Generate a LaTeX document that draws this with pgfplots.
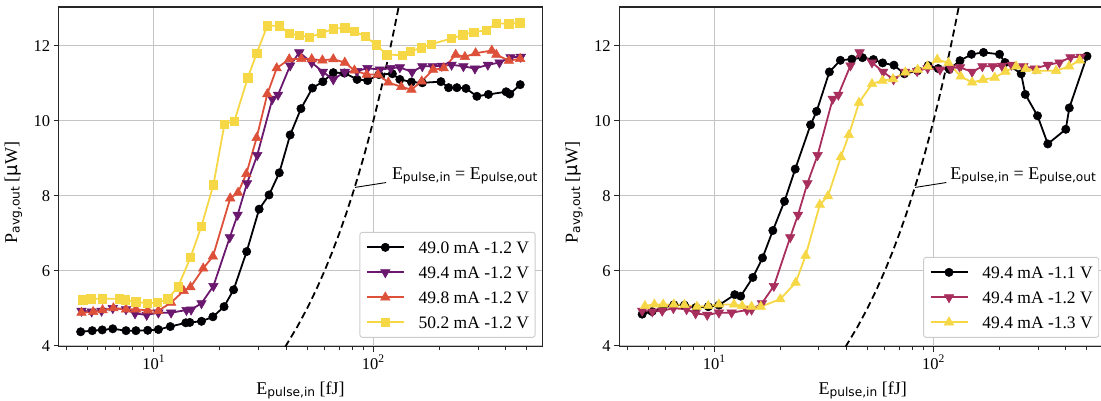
\documentclass[border=0pt]{standalone}
\usepackage{fontspec}
\setmainfont{Liberation Serif}
\newfontfamily\subf{DejaVu Sans}
\usepackage{pgfplots}
\pgfplotsset{compat=1.18}
\definecolor{c0}{HTML}{000004}
\definecolor{c1}{HTML}{6A176E}
\definecolor{c2}{HTML}{DD513A}
\definecolor{c3}{HTML}{F6D746}
\definecolor{c4}{HTML}{A82E5E}
\definecolor{gridc}{HTML}{C4C4C4}
\definecolor{legc}{HTML}{CCCCCC}
\newcommand{\sub}[1]{\raisebox{-2.5pt}{\fontsize{12.2}{12}\selectfont\subf #1}}

\pgfplotstableread{
x y
4.65 4.37
5.25 4.40
5.83 4.42
6.51 4.45
7.48 4.40
8.30 4.40
9.39 4.41
10.5 4.43
11.9 4.51
14.0 4.61
14.6 4.62
16.5 4.65
18.6 4.77
20.9 5.04
23.1 5.49
26.5 6.51
30.2 7.64
33.5 8.02
37.3 8.61
41.8 9.62
46.8 10.32
52.8 10.87
58.9 11.04
65.7 11.28
73.8 11.27
84.3 11.10
94.1 11.07
106 11.23
122 11.25
132 11.10
149 11.03
167 11.01
203 11.04
220 10.88
240 10.88
264 10.86
296 10.65
334 10.70
402 10.77
418 10.71
466 10.96
}\Lblack

\pgfplotstableread{
x y
4.69 4.93
5.22 4.91
5.79 4.93
6.51 5.00
7.48 4.97
8.22 4.86
9.29 4.82
10.5 4.88
12.0 4.88
14.1 4.95
14.8 4.96
16.5 5.13
18.7 5.59
22.2 6.89
24.1 7.49
26.6 8.33
29.6 9.08
34.7 10.58
36.8 10.69
41.8 11.47
46.0 11.82
52.4 11.55
58.9 11.30
65.7 11.10
74.1 11.30
84.2 11.32
94.0 11.40
107 11.36
120 11.40
132 11.42
150 11.30
167 11.45
186 11.45
205 11.46
227 11.49
257 11.45
290 11.39
332 11.49
375 11.55
421 11.69
469 11.70
}\Lpurple

\pgfplotstableread{
x y
4.69 4.88
5.30 4.90
5.85 4.95
6.55 5.00
7.48 4.97
8.30 4.97
9.40 4.94
10.5 4.93
12.0 5.15
13.7 5.46
14.7 5.56
16.8 6.06
18.6 6.38
22.3 7.93
24.2 8.08
26.4 8.58
29.4 9.54
32.9 10.71
36.3 11.40
41.4 11.64
47.0 11.65
52.4 11.64
58.6 11.61
65.7 11.64
74.1 11.55
82.0 11.34
93.3 11.23
105 11.23
117 11.02
134 10.90
149 10.83
166 11.05
187 11.36
209 11.40
237 11.76
261 11.70
292 11.80
346 11.87
363 11.76
414 11.60
466 11.65
}\Lred

\pgfplotstableread{
x y
4.76 5.22
5.17 5.25
5.83 5.25
6.97 5.25
7.40 5.22
8.30 5.17
9.35 5.13
10.4 5.15
11.6 5.25
12.9 5.57
14.7 6.35
16.5 7.19
18.7 8.29
21.0 9.91
23.3 9.99
26.8 11.14
29.4 11.79
32.9 12.53
37.3 12.53
41.4 12.33
46.0 12.27
51.2 12.23
58.0 12.33
65.6 12.45
74.1 12.48
82.0 12.38
91.9 12.25
103 12.02
115 11.76
135 11.75
147 11.85
165 11.94
184 12.04
226 12.19
255 12.29
286 12.36
326 12.41
363 12.60
414 12.58
464 12.61
}\Lyellow

\pgfplotstableread{
x y
4.69 4.84
5.20 4.91
5.81 5.00
6.54 5.09
7.31 5.08
8.25 5.02
9.39 5.04
10.5 5.08
12.4 5.36
13.2 5.32
15.0 5.82
16.6 6.34
18.5 7.07
20.9 7.85
23.4 8.71
27.5 9.89
29.3 10.25
33.5 11.30
37.6 11.61
42.4 11.64
47.4 11.68
53.2 11.63
58.6 11.54
66.0 11.48
73.6 11.25
84.5 11.33
94.5 11.47
105 11.39
118 11.37
132 11.60
149 11.77
169 11.82
200 11.77
212 11.55
251 11.25
262 10.70
298 10.13
332 9.38
401 9.77
416 10.34
501 11.72
}\Rblack

\pgfplotstableread{
x y
4.83 5.06
5.33 5.10
5.85 5.10
6.54 5.10
7.31 5.09
8.34 5.04
9.39 5.06
10.5 5.10
12.3 5.10
13.4 5.06
14.8 5.04
16.3 5.04
20.0 5.24
23.5 5.68
26.1 6.40
30.3 7.76
33.0 7.99
37.8 9.03
41.1 9.62
45.7 10.48
52.4 10.98
58.5 11.07
65.4 11.11
74.4 11.29
84.7 11.36
94.0 11.45
104 11.63
117 11.54
133 11.18
150 11.02
168 11.09
190 11.15
213 11.31
238 11.45
263 11.38
295 11.33
362 11.33
415 11.45
464 11.61
}\Ryellow

\pgfplotstableread{
x y
39.7 3.97
45 4.5
50 5.0
55 5.5
60 6.0
65 6.5
70 7.0
75 7.5
80 8.0
85 8.5
90 9.0
95 9.5
100 10.0
105 10.5
110 11.0
115 11.5
120 12.0
125 12.5
130.3 13.03
}\Eline

\pgfplotsset{
 myaxis/.style={
  scale only axis, height=339.75pt,
  ymin=3.97, ymax=13.03, xmin=3.686,
  xtick={10,100}, xticklabels={10\textsuperscript{1},10\textsuperscript{2}},
  ytick={4,6,8,10,12}, yticklabels={4,6,8,10,12},
  tick align=outside, xtick pos=bottom, ytick pos=left,
  major tick length=5pt, minor tick length=3pt,
  grid=major, grid style={gridc, line width=1.2pt},
  axis line style={line width=1.1pt, black!85}, tick style={line width=0.9pt, black!85},
  ticklabel style={font=\fontsize{16.5}{18}\selectfont},
  label style={font=\fontsize{18}{20}\selectfont},
  xlabel={E\sub{pulse,in} [fJ]},
  ylabel={P\sub{avg,out} [{\subf μ}W]},
  x label style={at={(axis description cs:0.5,-0.139)}, anchor=base},
  y label style={at={(axis description cs:-0.093,0.454)}, anchor=center},
  legend cell align=left,
  legend style={at={(1,0)}, anchor=south east, xshift=-7pt, yshift=9pt,
    draw=legc, line width=0.9pt, rounded corners=2.5pt, fill=white,
    inner xsep=6pt, inner ysep=9pt, row sep=13pt, column sep=14pt,
    font=\fontsize{17.5}{19}\selectfont,
    nodes={inner sep=0pt, text height=12pt, text depth=0pt}},
  legend image code/.code={\draw[mark repeat=2, mark phase=2] plot coordinates {(0pt,0pt) (18.5pt,0pt) (37pt,0pt)};},
 },
 sblack/.style={c0, line width=1.8pt, mark=*, mark size=4.2pt, mark options={solid, line width=0.5pt}},
 sdown/.style={line width=1.8pt, mark=triangle*, mark size=5.5pt, mark options={solid, rotate=180, line width=0.5pt}},
 sup/.style={line width=1.8pt, mark=triangle*, mark size=5.5pt, mark options={solid, line width=0.5pt}},
 ssq/.style={line width=1.8pt, mark=square*, mark size=4.2pt, mark options={solid, line width=0.5pt}},
 eline/.style={black, line width=1.8pt, dash pattern=on 7pt off 4pt, mark=none, forget plot},
}

\begin{document}
\begin{tikzpicture}[x=1pt,y=1pt]
\useasboundingbox (0,0) rectangle (1101,401);
\begin{semilogxaxis}[myaxis, at={(58.5pt,54.2pt)}, anchor=south west, width=484pt, xmax=588.8,
  minor xtick={4,5,6,7,8,9,20,30,40,50,60,70,80,90,200,300,400,500}]
\addplot[eline] table {\Eline};
\addplot[sblack] table {\Lblack};
\addlegendentry{49.0 mA -1.2 V}
\addplot[c1, sdown] table {\Lpurple};
\addlegendentry{49.4 mA -1.2 V}
\addplot[c2, sup] table {\Lred};
\addlegendentry{49.8 mA -1.2 V}
\addplot[c3, ssq] table {\Lyellow};
\addlegendentry{50.2 mA -1.2 V}
\draw[black, line width=0.9pt] (axis cs:114.3,8.35) -- (axis cs:82.5,8.22);
\node[anchor=base west, inner sep=0pt, font=\fontsize{18}{20}\selectfont] at (axis cs:121.3,8.44) {E\sub{pulse,in} = E\sub{pulse,out}};
\end{semilogxaxis}
\begin{semilogxaxis}[myaxis, at={(619.2pt,54.2pt)}, anchor=south west, width=487pt, xmax=613,
  minor xtick={4,5,6,7,8,9,20,30,40,50,60,70,80,90,200,300,400,500,600}]
\addplot[eline] table {\Eline};
\addplot[sblack] table {\Rblack};
\addlegendentry{49.4 mA -1.1 V}
\addplot[c4, sdown] table {\Lpurple};
\addlegendentry{49.4 mA -1.2 V}
\addplot[c3, sup] table {\Ryellow};
\addlegendentry{49.4 mA -1.3 V}
\draw[black, line width=0.9pt] (axis cs:114.3,8.35) -- (axis cs:82.5,8.22);
\node[anchor=base west, inner sep=0pt, font=\fontsize{18}{20}\selectfont] at (axis cs:119.2,8.44) {E\sub{pulse,in} = E\sub{pulse,out}};
\end{semilogxaxis}
\end{tikzpicture}
\end{document}
